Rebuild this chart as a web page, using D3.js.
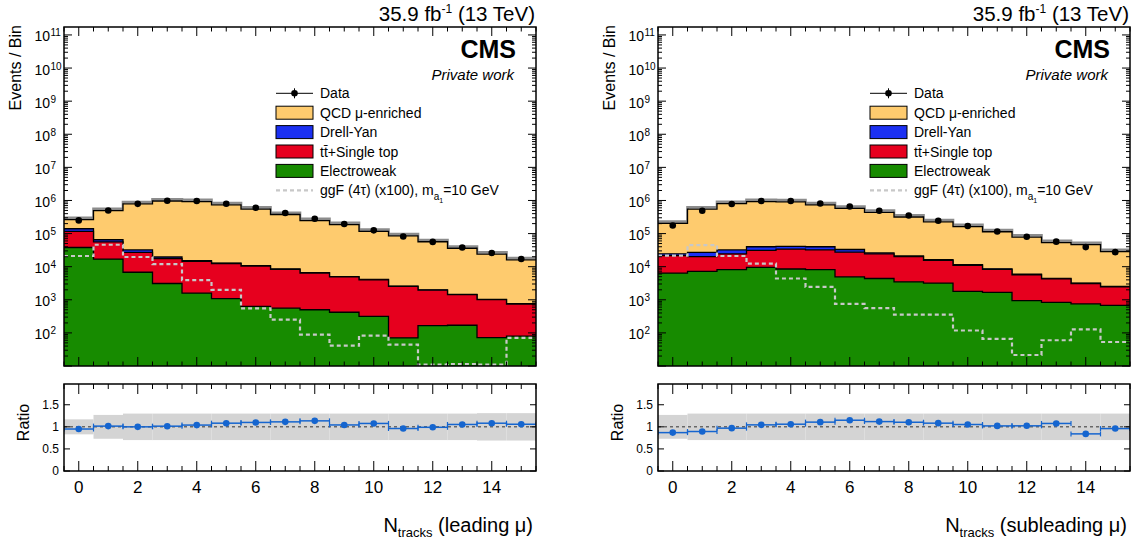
<!DOCTYPE html>
<html>
<head>
<meta charset="utf-8">
<script src="https://cdn.jsdelivr.net/npm/d3@7"></script>
<style>
  body { margin: 0; background: #fff; }
  text { font-family: "Liberation Sans", Arial, Helvetica, sans-serif; fill: #000; }
</style>
</head>
<body>
<svg id="chart" width="1133" height="545"></svg>
<script>
// ---- binning and axis labels ----
const binCenters = d3.range(0, 16);
const xTickLabels = [0, 2, 4, 6, 8, 10, 12, 14];
const logDecades = [1, 2, 3, 4, 5, 6, 7, 8, 9, 10, 11];
const ratioTickLabels = [0, 0.5, 1, 1.5];
const legendLabels = ["Data", "QCD \u03bc-enriched", "Drell-Yan", "t\u0074\u0304+Single top", "Electroweak"];

// ---- leading muon: events per bin ----
const leadData   = [2.5e5, 5.0e5, 7.9e5, 9.8e5, 9.6e5, 8.0e5, 6.0e5, 4.2e5, 2.8e5, 1.95e5, 1.25e5, 8.2e4, 5.6e4, 3.8e4, 2.6e4, 1.7e4];
const leadQCD    = [1.23e5, 4.27e5, 7.58e5, 9.46e5, 9.08e5, 7.26e5, 5.35e5, 3.69e5, 2.40e5, 1.82e5, 1.12e5, 8.26e4, 5.46e4, 3.46e4, 2.30e4, 1.53e4];
const leadDY     = [2.4e4, 9.0e3, 5.0e3, 2.2e3, 700, 400, 300, 200, 150, 100, 100, 50, 40, 30, 20, 15];
const leadTop    = [7.8e4, 3.9e4, 2.02e4, 1.43e4, 1.29e4, 1.14e4, 9.77e3, 7.74e3, 5.95e3, 4.48e3, 3.68e3, 2.48e3, 1.79e3, 1.26e3, 938, 665];
const leadEW     = [3.8e4, 1.7e4, 6.8e3, 3.1e3, 1.6e3, 1.08e3, 630, 560, 500, 420, 316, 71, 166, 170, 72, 80];
const leadSignal = [2.1e4, 4.6e4, 1.96e4, 1.2e4, 3.9e3, 2.0e3, 550, 250, 89, 41, 83, 44, 11, 11.5, 11, 71];
const leadRelUnc = [0.17, 0.27, 0.30, 0.30, 0.30, 0.30, 0.30, 0.30, 0.30, 0.30, 0.30, 0.30, 0.30, 0.30, 0.31, 0.31];

// ---- subleading muon: events per bin ----
const subData   = [1.76e5, 4.9e5, 7.8e5, 9.6e5, 9.6e5, 8.1e5, 6.6e5, 4.9e5, 3.5e5, 2.45e5, 1.7e5, 1.16e5, 8.0e4, 5.7e4, 3.9e4, 2.75e4];
const subQCD    = [1.78e5, 5.21e5, 7.72e5, 8.79e5, 8.65e5, 6.92e5, 5.41e5, 4.12e5, 2.96e5, 2.10e5, 1.50e5, 1.05e5, 7.23e4, 4.85e4, 4.32e4, 2.61e4];
const subDY     = [3.0e3, 7.0e3, 7.5e3, 9.0e3, 7.0e3, 8.0e3, 5.5e3, 1.5e3, 1.0e3, 700, 500, 300, 200, 150, 100, 70];
const subTop    = [1.51e4, 1.28e4, 1.64e4, 2.15e4, 2.55e4, 2.39e4, 2.26e4, 2.01e4, 1.65e4, 1.23e4, 9.2e3, 6.63e3, 4.76e3, 3.47e3, 2.35e3, 1.77e3];
const subEW     = [6.4e3, 7.2e3, 8.1e3, 9.5e3, 8.5e3, 8.1e3, 4.9e3, 4.4e3, 3.5e3, 3.2e3, 1.8e3, 1.67e3, 940, 830, 750, 680];
const subSignal = [2.15e4, 4.5e4, 2.1e4, 1.24e4, 4.4e3, 2.45e3, 750, 560, 355, 355, 118, 66, 21.5, 60, 128, 53];
const subRelUnc = [0.27, 0.30, 0.30, 0.30, 0.30, 0.30, 0.30, 0.30, 0.30, 0.30, 0.30, 0.30, 0.30, 0.30, 0.30, 0.30];

const colors = {
  qcd: "#fecb6e",
  dy: "#1b30f2",
  top: "#e6001e",
  ew: "#178b00",
  signal: "#c8c8c8",
  band: "#d4d4d4",
  ratio: "#1565cf"
};

const svg = d3.select("#chart");

const panels = [
  { ox: 0, id: "lead", data: leadData, qcd: leadQCD, dy: leadDY, top: leadTop, ew: leadEW,
    signal: leadSignal, unc: leadRelUnc, title: "(leading \u03bc)" },
  { ox: 594, id: "sub", data: subData, qcd: subQCD, dy: subDY, top: subTop, ew: subEW,
    signal: subSignal, unc: subRelUnc, title: "(subleading \u03bc)" }
];

// frame geometry shared by both panels
const X0 = 64, X1 = 536;
const MAIN_TOP = 27, MAIN_BOT = 366;
const RAT_TOP = 384, RAT_BOT = 471;

function stepPoints(vals, x, y) {
  const pts = [];
  vals.forEach((v, i) => {
    pts.push([x(i - 0.5), y(v)]);
    pts.push([x(i + 0.5), y(v)]);
  });
  return pts;
}
function stepLinePath(vals, x, y) {
  return d3.line()(stepPoints(vals, x, y));
}
function stepAreaPath(vals, x, y, base) {
  const pts = stepPoints(vals, x, y);
  return "M" + x(-0.5) + "," + base + "L" + pts.map(p => p.join(",")).join("L") +
         "L" + x(15.5) + "," + base + "Z";
}

panels.forEach(p => {
  const g = svg.append("g").attr("transform", `translate(${p.ox},0)`);
  const x = d3.scaleLinear().domain([-0.5, 15.5]).range([X0, X1]);
  const y = d3.scaleLog().domain([10, Math.pow(10, 11.24)]).range([MAIN_BOT, MAIN_TOP]).clamp(true);
  const yr = d3.scaleLinear().domain([0, 1.97]).range([RAT_BOT, RAT_TOP]);

  // cumulative stack, bottom to top: electroweak, top, Drell-Yan, QCD
  const cumEW = p.ew.slice();
  const cumTop = p.ew.map((v, i) => v + p.top[i]);
  const cumDY = cumTop.map((v, i) => v + p.dy[i]);
  const total = cumDY.map((v, i) => v + p.qcd[i]);
  const ratio = p.data.map((v, i) => v / total[i]);

  g.append("clipPath").attr("id", "clipMain" + p.id)
    .append("rect").attr("x", X0).attr("y", MAIN_TOP).attr("width", X1 - X0).attr("height", MAIN_BOT - MAIN_TOP);
  g.append("clipPath").attr("id", "clipRat" + p.id)
    .append("rect").attr("x", X0).attr("y", RAT_TOP).attr("width", X1 - X0).attr("height", RAT_BOT - RAT_TOP);

  const main = g.append("g").attr("clip-path", `url(#clipMain${p.id})`);

  // thin grey edge marking the MC uncertainty on top of the stack
  main.append("path").attr("d", stepLinePath(total, x, v => y(v) - 1.8))
    .attr("fill", "none").attr("stroke", "#8c8c8c").attr("stroke-width", 2.6);

  // stacked histograms
  const layers = [
    { vals: total, color: colors.qcd },
    { vals: cumDY, color: colors.dy },
    { vals: cumTop, color: colors.top },
    { vals: cumEW, color: colors.ew }
  ];
  layers.forEach(l => {
    main.append("path").attr("d", stepAreaPath(l.vals, x, y, MAIN_BOT + 5)).attr("fill", l.color);
    main.append("path").attr("d", stepLinePath(l.vals, x, y))
      .attr("fill", "none").attr("stroke", "#000").attr("stroke-width", 1.3);
  });

  // signal (x100)
  main.append("path").attr("d", stepLinePath(p.signal, x, y))
    .attr("fill", "none").attr("stroke", colors.signal).attr("stroke-width", 2.2)
    .attr("stroke-dasharray", "4,3");

  // data
  main.selectAll("line.err").data(binCenters).join("line")
    .attr("x1", i => x(i)).attr("x2", i => x(i))
    .attr("y1", i => y(p.data[i] + Math.sqrt(p.data[i]) * 3))
    .attr("y2", i => y(p.data[i] - Math.sqrt(p.data[i]) * 3))
    .attr("stroke", "#000").attr("stroke-width", 1);
  main.selectAll("circle.data").data(binCenters).join("circle")
    .attr("cx", i => x(i)).attr("cy", i => y(p.data[i])).attr("r", 3.3).attr("fill", "#000");

  // ---- ratio panel ----
  const rat = g.append("g").attr("clip-path", `url(#clipRat${p.id})`);
  rat.selectAll("rect.band").data(binCenters).join("rect")
    .attr("x", i => x(i - 0.5)).attr("width", i => x(i + 0.5) - x(i - 0.5))
    .attr("y", i => yr(1 + p.unc[i]))
    .attr("height", i => yr(1 - p.unc[i]) - yr(1 + p.unc[i]))
    .attr("fill", colors.band);
  rat.append("line").attr("x1", X0).attr("x2", X1).attr("y1", yr(1)).attr("y2", yr(1))
    .attr("stroke", "#333").attr("stroke-width", 1).attr("stroke-dasharray", "3,3");
  rat.selectAll("line.rx").data(binCenters).join("line")
    .attr("x1", i => x(i - 0.5)).attr("x2", i => x(i + 0.5))
    .attr("y1", i => yr(ratio[i])).attr("y2", i => yr(ratio[i]))
    .attr("stroke", colors.ratio).attr("stroke-width", 1.5);
  [-0.5, 0.5].forEach(s => {
    rat.selectAll("line.cap").data(binCenters).join(enter => enter.append("line"))
      .attr("x1", i => x(i + s)).attr("x2", i => x(i + s))
      .attr("y1", i => yr(ratio[i]) - 2.5).attr("y2", i => yr(ratio[i]) + 2.5)
      .attr("stroke", colors.ratio).attr("stroke-width", 1.2);
  });
  rat.selectAll("circle.r").data(binCenters).join("circle")
    .attr("cx", i => x(i)).attr("cy", i => yr(ratio[i])).attr("r", 3.3).attr("fill", colors.ratio);

  // ---- frames and ticks ----
  const ticks = g.append("g").attr("stroke", "#000").attr("stroke-width", 1);
  const xMinor = d3.range(-0.5, 15.51, 0.5);
  function xTicks(top, bot, major, minor) {
    xMinor.forEach(v => {
      const isMajor = Math.abs(v % 2) < 1e-9;
      const len = isMajor ? major : minor;
      ticks.append("line").attr("x1", x(v)).attr("x2", x(v)).attr("y1", bot).attr("y2", bot - len);
      ticks.append("line").attr("x1", x(v)).attr("x2", x(v)).attr("y1", top).attr("y2", top + len);
    });
  }
  xTicks(MAIN_TOP, MAIN_BOT, 9, 4.5);
  xTicks(RAT_TOP, RAT_BOT, 10, 5);

  logDecades.forEach(k => {
    for (let m = 1; m <= 9; m++) {
      const v = m * Math.pow(10, k);
      if (v > Math.pow(10, 11.24)) continue;
      const len = m === 1 ? 8 : 4;
      ticks.append("line").attr("x1", X0).attr("x2", X0 + len).attr("y1", y(v)).attr("y2", y(v));
      ticks.append("line").attr("x1", X1).attr("x2", X1 - len).attr("y1", y(v)).attr("y2", y(v));
    }
  });
  ratioTickLabels.forEach(v => {
    ticks.append("line").attr("x1", X0).attr("x2", X0 + 6).attr("y1", yr(v)).attr("y2", yr(v));
    ticks.append("line").attr("x1", X1).attr("x2", X1 - 6).attr("y1", yr(v)).attr("y2", yr(v));
  });

  g.append("rect").attr("x", X0).attr("y", MAIN_TOP).attr("width", X1 - X0).attr("height", MAIN_BOT - MAIN_TOP)
    .attr("fill", "none").attr("stroke", "#000").attr("stroke-width", 1.5);
  g.append("rect").attr("x", X0).attr("y", RAT_TOP).attr("width", X1 - X0).attr("height", RAT_BOT - RAT_TOP)
    .attr("fill", "none").attr("stroke", "#000").attr("stroke-width", 1.5);

  // ---- tick labels ----
  logDecades.filter(k => k >= 2).forEach(k => {
    const ty = y(Math.pow(10, k));
    g.append("text").attr("x", 50).attr("y", ty + 6.5).attr("text-anchor", "end")
      .style("font-size", "14px").text("10");
    g.append("text").attr("x", 50.5).attr("y", ty + 1.5).attr("text-anchor", "start")
      .style("font-size", "10px").text(String(k));
  });
  ratioTickLabels.forEach(v => {
    g.append("text").attr("x", 59).attr("y", yr(v) + 4.3).attr("text-anchor", "end")
      .style("font-size", "12px").text(String(v));
  });
  xTickLabels.forEach(v => {
    g.append("text").attr("x", x(v)).attr("y", 493).attr("text-anchor", "middle")
      .style("font-size", "17px").text(String(v));
  });

  // ---- axis titles ----
  g.append("text").attr("transform", "translate(21,25) rotate(-90)").attr("text-anchor", "end")
    .style("font-size", "16px").text("Events / Bin");
  g.append("text").attr("transform", `translate(29,${(RAT_TOP + RAT_BOT) / 2 - 5}) rotate(-90)`).attr("text-anchor", "middle")
    .style("font-size", "16px").text("Ratio");
  const xt = g.append("text").attr("x", 533).attr("y", 532).attr("text-anchor", "end").style("font-size", "20px");
  xt.append("tspan").text("N");
  xt.append("tspan").attr("dy", 5).style("font-size", "13px").text("tracks");
  xt.append("tspan").attr("dy", -5).text(" " + p.title);

  // ---- header texts ----
  const lumi = g.append("text").attr("x", 535).attr("y", 21).attr("text-anchor", "end").style("font-size", "20.5px");
  lumi.append("tspan").text("35.9 fb");
  lumi.append("tspan").attr("dy", -8).style("font-size", "12px").text("-1");
  lumi.append("tspan").attr("dy", 8).text(" (13 TeV)");
  g.append("text").attr("x", 516).attr("y", 58).attr("text-anchor", "end")
    .style("font-size", "25px").style("font-weight", "bold").text("CMS");
  g.append("text").attr("x", 514).attr("y", 80).attr("text-anchor", "end")
    .style("font-size", "15px").style("font-style", "italic").text("Private work");

  // ---- legend ----
  const lg = g.append("g");
  const lx0 = 276, lx1 = 313, step = 19.4, ly0 = 93.3;
  // data entry
  lg.append("line").attr("x1", lx0).attr("x2", lx1).attr("y1", ly0).attr("y2", ly0).attr("stroke", "#000");
  lg.append("line").attr("x1", (lx0 + lx1) / 2).attr("x2", (lx0 + lx1) / 2).attr("y1", ly0 - 5).attr("y2", ly0 + 5).attr("stroke", "#000");
  lg.append("circle").attr("cx", (lx0 + lx1) / 2).attr("cy", ly0).attr("r", 3.3).attr("fill", "#000");
  const boxColors = [colors.qcd, colors.dy, colors.top, colors.ew];
  boxColors.forEach((c, i) => {
    const cy = ly0 + step * (i + 1);
    lg.append("rect").attr("x", lx0).attr("y", cy - 6.5).attr("width", lx1 - lx0).attr("height", 13)
      .attr("fill", c).attr("stroke", "#000").attr("stroke-width", 1);
  });
  legendLabels.forEach((t, i) => {
    lg.append("text").attr("x", 320).attr("y", ly0 + step * i + 5).style("font-size", "14px").text(t);
  });
  const sy = ly0 + step * 5;
  lg.append("line").attr("x1", lx0).attr("x2", lx1).attr("y1", sy).attr("y2", sy)
    .attr("stroke", colors.signal).attr("stroke-width", 2.2).attr("stroke-dasharray", "4,3");
  const st = lg.append("text").attr("x", 320).attr("y", sy + 5).style("font-size", "14px");
  st.append("tspan").text("ggF (4\u03c4) (x100), m");
  st.append("tspan").attr("dy", 5).style("font-size", "10px").text("a");
  st.append("tspan").attr("dy", 3).style("font-size", "7px").text("1");
  st.append("tspan").attr("dy", -8).text("=10 GeV");
});
</script>
</body>
</html>
